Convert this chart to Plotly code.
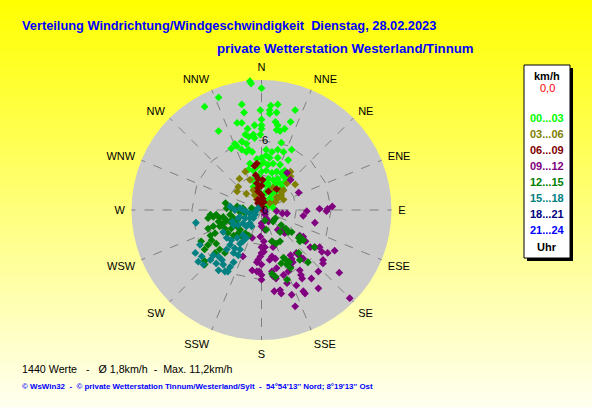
import numpy as np
import plotly.graph_objects as go

W, H = 592, 407

# compass directions of the angular axis
dir_ticks = [i * 22.5 for i in range(16)]
dir_labels = ["N", "NNE", "NE", "ENE", "E", "ESE", "SE", "SSE",
              "S", "SSW", "SW", "WSW", "W", "WNW", "NW", "NNW"]
ring_levels = [3, 6]
radial_ticks = [0, 6]
r_max = 11.2

# wind vectors, east / north components in km/h,
# one pair of lists per 3-hour block of the day
h00_east = [-1.0, -0.9, 0.0, -3.7, -4.9, -1.7, -1.5, 0.8, 0.7, 0.7,
            1.4, 1.3, -0.1, 2.9, -2.1, -1.7, -3.7, -0.6, 0.0, 0.0,
            0.0, 1.2, 1.4, 1.3, 1.6, 2.0, 2.5, -1.2, -1.4, -1.1,
            -0.7, -0.6, -0.1, -1.7, -2.1, -2.6, -2.3, -1.3, -1.1, -0.8,
            0.4, 0.4, 0.9, 1.4, 1.7, 1.9, 2.6, 2.3, -0.4, 0.0,
            0.2, 0.7, 1.0, 1.4, -1.0, -1.1, -0.7, -0.4, -0.1, 0.4,
            0.9, 1.3, 1.7, 0.6, 1.0, 1.4, 1.9, 0.3, 0.7, 1.2,
            1.6, 2.0, 0.4, 0.9, 1.3, 0.7, 1.0, 0.0, -0.4, -0.7,
            -0.8, 0.2, 0.6, 0.0, -0.3, -1.7, -1.3,
            0.55, 1.6, 2.0, 0.0, -0.3, 2.2, 1.8, 0.55, 1.0, 0.4]
h00_north = [11.1, 10.9, 10.5, 9.7, 8.9, 9.1, 8.4, 9.0, 8.6, 8.3,
             9.1, 8.4, 8.6, 8.6, 7.5, 7.5, 6.8, 7.3, 7.8, 7.3,
             7.0, 7.6, 7.3, 6.9, 6.8, 7.0, 7.6, 7.0, 6.5, 6.3,
             6.5, 6.2, 6.5, 5.9, 5.5, 5.3, 5.7, 5.7, 5.2, 5.0,
             5.2, 4.7, 5.0, 5.2, 5.8, 5.0, 5.2, 4.3, 4.4, 4.5,
             4.1, 4.5, 4.0, 4.5, 4.0, 3.5, 3.4, 3.7, 3.9, 3.4,
             3.2, 3.3, 3.2, 2.7, 2.6, 2.7, 2.9, 2.2, 2.0, 2.2,
             2.3, 2.4, 1.6, 1.4, 1.6, 1.0, 0.7, 2.6, 2.3, 2.0,
             2.6, 1.3, 0.4, 0.9, 1.7, 5.2, 5.0,
             3.9, 3.9, 3.4, 3.3, 2.9, 2.8, 1.9, 2.3, 0.2, 0.7]

h03_east = [-1.4, -1.9, -2.0, -2.1, -1.3, -0.6, -0.4, -0.2, -1.0, -0.7,
            2.5, 2.5, 2.9, 2.2, 1.9, 1.7, 1.4, 1.2, 0.7, 1.0,
            1.3, 1.6, 1.9, 0.1]
h03_north = [3.3, 2.7, 2.0, 1.6, 1.4, 1.3, 0.9, 0.7, 2.6, 1.7,
             3.3, 2.9, 2.2, 2.3, 1.7, 1.3, 1.0, 0.7, 0.6, 1.9,
             1.1, 1.7, 0.9, 0.3]

h06_east = [-0.4, -0.6, -0.5, -0.3, 0.1, -0.4, 0.0, -0.3, -0.3, 0.0,
            0.1, -0.3, 0.2, -0.1, 0.0, -0.3, 1.3, 0.6]
h06_north = [4.0, 3.8, 3.0, 2.7, 2.6, 2.3, 2.1, 1.9, 1.6, 1.3,
             1.0, 0.9, 0.7, 0.4, 0.15, 0.6, 1.8, 1.6]

h09_east = [5.0, 5.7, 6.1, 5.6, 3.9, 3.6, 1.3, 1.8, 2.2, 0.3,
            0.4, 0.6, 0.0, 4.6, 1.4, 1.9, 2.0, 3.3, 3.6, 3.8,
            -0.8, 0.2, 0.0, 0.3, 0.9, 1.0, 5.0, 5.2, 5.7, 6.3,
            4.6, 4.2, 3.0, 3.3, 3.6, 2.5, 2.6, 0.0, -0.1, -0.3,
            -0.4, 0.2, 0.9, 1.2, 0.7, 5.3, 5.3, 2.7, -0.8, -0.2,
            0.0, 0.9, 1.0, 1.25, 1.9, 2.3, 3.3, 3.4, 3.5, 4.3,
            4.9, 6.7, 0.0, 2.2, 3.0, 1.1, 1.6, 1.7, 2.6, 3.6,
            3.75, 4.9, 2.9, 7.6, -1.6, 1.3, 0.3, 1.0, 2.2, 2.5,
            3.2, -0.1, 0.3, 0.0, -0.4, 0.0, 2.5]
h09_north = [0.1, 0.1, 0.3, -0.1, -0.1, -0.5, -0.1, -0.3, -0.3, -0.4,
             -0.7, -1.0, -1.4, -1.1, -1.7, -1.7, -2.0, -2.2, -2.3, -2.7,
             -2.4, -2.7, -3.2, -3.2, -2.7, -3.2, -3.2, -3.6, -3.7, -3.5,
             -3.2, -3.2, -3.7, -4.0, -4.2, -3.9, -4.2, -3.7, -4.0, -4.3,
             -4.5, -3.6, -4.0, -4.2, -4.3, -4.3, -4.6, -4.5, -5.2, -5.3,
             -5.6, -5.3, -5.7, -5.9, -5.6, -5.3, -5.2, -5.6, -5.9, -5.9,
             -5.3, -5.4, -6.0, -6.3, -6.5, -7.0, -6.9, -7.2, -7.3, -7.0,
             -7.2, -6.75, -8.3, -7.6, -4.0, -5.0, -0.15, -0.9, 3.2, 2.6,
             1.5, -2.3, -1.7, -1.15, -5.3, -4.7, -4.9]

h12_east = [0.3, 1.0, 1.2, 1.7, 2.1, 2.3, 2.6, 1.6, 0.4, 0.9,
            1.25, 1.6, 3.2, 3.3, 3.6, 3.3, 4.55, 1.9, 2.1, 2.4,
            1.7, 2.2, 2.5, 3.2, 4.0, 3.3, 0.9, 1.2, 2.2,
            -3.1, -3.0, -2.6, -2.1, -1.6, -1.85, -1.4, -0.85, -4.4, -4.6,
            -4.15, -3.9, -3.6, -3.7, -3.3, -3.0, -2.7, -2.4, -2.1, -2.7,
            -3.3, -4.15, -3.6, -3.15, -2.6, -2.1, -2.9, -2.4, -2.0, -1.85,
            -4.4, -4.0, -4.3, -3.9, -4.6, -4.9, -4.0, -3.6, -3.15, -4.9,
            -1.7, -1.4, -1.1, -5.2, -4.9, -4.6]
h12_north = [-0.9, -1.0, -0.7, -1.3, -1.6, -1.9, -1.9, -1.9, -1.7, -2.7,
             -2.9, -2.7, -2.4, -2.7, -2.6, -2.3, -3.2, -4.1, -4.3, -4.5,
             -4.6, -4.7, -5.0, -3.7, -4.5, -4.3, -5.5, -5.75, -6.0,
             0.6, 0.15, 0.15, 0.3, 0.15, -0.2, -0.3, 0.15, -0.4, -0.7,
             -0.6, -0.4, -0.7, -1.0, -1.15, -0.9, -1.0, -0.7, -0.9, -0.4,
             -0.6, -1.4, -1.4, -1.6, -1.6, -1.4, -2.0, -2.2, -2.0, -1.7,
             -2.2, -2.0, -2.6, -2.9, -3.0, -3.4, -3.7, -3.4, -3.7, -4.7,
             -2.3, -2.0, -2.2, -2.7, -4.4, -1.6]

h15_east = [-5.65, -0.3, -0.55, -1.0, -1.3, -1.6, -1.85, -2.3, -1.85, -1.4,
            -1.0, -1.3, -0.85, -1.6, -2.0, -2.4, -3.3, -3.0, -2.6, -2.1,
            -1.85, -1.6, -1.3, -2.7, -2.3, -1.85, -3.0, -4.15, -3.7, -4.4,
            -3.4, -3.9, -3.3, -2.7, -3.15, -2.9, -2.4, -2.4, -2.0, -5.7,
            -5.45, -5.3, -5.15, -5.0, -3.7, -1.6, -0.7, -0.55, -1.0, -2.0,
            -2.5, -2.7]
h15_north = [-1.1, 0.15, -0.15, -0.3, -0.15, 0.0, 0.15, 0.0, -0.6, -0.7,
             -1.15, -1.4, -1.4, -1.15, -1.3, -1.3, -1.9, -2.4, -2.6, -2.4,
             -2.9, -2.7, -2.4, -3.0, -3.3, -3.4, -3.4, -3.9, -4.0, -4.3,
             -4.3, -4.6, -4.7, -4.9, -5.3, -5.3, -4.5, -3.7, -3.9, -3.7,
             -4.45, -3.0, -4.0, -4.7, -5.2, -2.15, -0.7, -0.4, -0.7, -0.7,
             -1.0, 0.3]

h18_east, h18_north = [], []
h21_east, h21_north = [], []

hour_labels = ["00...03", "03...06", "06...09", "09...12",
               "12...15", "15...18", "18...21", "21...24"]
hour_colors = ["#00ff00", "#808000", "#800000", "#800080",
               "#008000", "#008080", "#000080", "#0000ff"]
blocks = [(h00_east, h00_north), (h03_east, h03_north), (h06_east, h06_north),
          (h09_east, h09_north), (h12_east, h12_north), (h15_east, h15_north),
          (h18_east, h18_north), (h21_east, h21_north)]

FONT = "Liberation Sans, Arial, sans-serif"


def px(x):
    return x / W


def py(y):
    return 1 - y / H


fig = go.Figure()

# dashed polygon rings
for lev in ring_levels:
    fig.add_trace(go.Scatterpolar(
        r=[lev] * (len(dir_ticks) + 1), theta=dir_ticks + [dir_ticks[0]],
        mode="lines", line=dict(color="#7f7f7f", width=1, dash="dash"),
        hoverinfo="skip", showlegend=False))

for (east, north), col in zip(blocks, hour_colors):
    e = np.array(east, dtype=float)
    n = np.array(north, dtype=float)
    speed = np.hypot(e, n)
    direction = np.degrees(np.arctan2(e, n)) % 360
    fig.add_trace(go.Scatterpolar(
        r=speed, theta=direction, mode="markers",
        marker=dict(symbol="diamond", size=6, color=col, line=dict(width=0)),
        hoverinfo="skip", showlegend=False))

# yellow to pale background, drawn as thin bands
shapes = []
nb = 60
for i in range(nb):
    t = (i + 0.5) / nb
    b = int(round(240 * t))
    shapes.append(dict(type="rect", xref="paper", yref="paper",
                       x0=0, x1=1, y0=1 - (i + 1) / nb, y1=1 - i / nb + 0.002,
                       fillcolor=f"rgb(255,255,{b})", line=dict(width=0),
                       layer="below"))

# legend box with shadow
shapes.append(dict(type="rect", xref="paper", yref="paper",
                   x0=px(527), x1=px(573), y0=py(261), y1=py(68),
                   fillcolor="black", line=dict(width=0)))
shapes.append(dict(type="rect", xref="paper", yref="paper",
                   x0=px(524), x1=px(570), y0=py(258), y1=py(65),
                   fillcolor="white", line=dict(color="black", width=1)))

ann = []
ann.append(dict(text="Verteilung Windrichtung/Windgeschwindigkeit  Dienstag, 28.02.2023",
                x=px(20), y=py(25), xanchor="left", yanchor="middle",
                font=dict(family=FONT, size=12.8, color="#0000ff", weight="bold")))
ann.append(dict(text="private Wetterstation Westerland/Tinnum",
                x=px(215), y=py(49), xanchor="left", yanchor="middle",
                font=dict(family=FONT, size=13.2, color="#0000ff", weight="bold")))
ann.append(dict(text="1440 Werte   -   Ø 1,8km/h  -  Max. 11,2km/h",
                x=px(20), y=py(369), xanchor="left", yanchor="middle",
                font=dict(family=FONT, size=10.7, color="black")))
ann.append(dict(text="© WsWin32  -  © private Wetterstation Tinnum/Westerland/Sylt  -  "
                     "54°54'13'' Nord; 8°19'13'' Ost",
                x=px(20), y=py(386), xanchor="left", yanchor="middle",
                font=dict(family=FONT, size=7.9, color="#0000ff", weight="bold")))

ann.append(dict(text="km/h", x=px(547), y=py(76), xanchor="center", yanchor="middle",
                font=dict(family=FONT, size=11, color="black", weight="bold")))
ann.append(dict(text="0,0", x=px(547), y=py(88), xanchor="center", yanchor="middle",
                font=dict(family=FONT, size=11, color="#ff0000")))
for i, (lab, col) in enumerate(zip(hour_labels, hour_colors)):
    ann.append(dict(text=lab, x=px(547), y=py(118 + i * 16), xanchor="center",
                    yanchor="middle",
                    font=dict(family=FONT, size=11, color=col, weight="bold")))
ann.append(dict(text="Uhr", x=px(547), y=py(247), xanchor="center", yanchor="middle",
                font=dict(family=FONT, size=11, color="black", weight="bold")))
for a in ann:
    a.update(xref="paper", yref="paper", showarrow=False)

cx, cy, rad = 261.5, 210, 130
fig.update_layout(
    width=W, height=H,
    margin=dict(l=0, r=0, t=0, b=0),
    paper_bgcolor="#ffff00",
    showlegend=False,
    shapes=shapes,
    annotations=ann,
    polar=dict(
        domain=dict(x=[px(cx - rad), px(cx + rad)], y=[py(cy + rad), py(cy - rad)]),
        bgcolor="#cacaca",
        angularaxis=dict(
            rotation=90, direction="clockwise",
            tickmode="array", tickvals=dir_ticks, ticktext=dir_labels,
            showline=False, showgrid=True, gridcolor="#7f7f7f", gridwidth=1,
            griddash="dash", ticks="outside", ticklen=4, tickcolor="rgba(0,0,0,0)",
            tickfont=dict(family=FONT, size=11, color="black"),
        ),
        radialaxis=dict(
            range=[0, r_max], showgrid=False, showline=False,
            tickmode="array", tickvals=radial_ticks,
            ticktext=[str(v) for v in radial_ticks],
            angle=90, tickangle=90, ticks="", side="clockwise",
            tickfont=dict(family=FONT, size=11, color="black"),
        ),
    ),
)

# page without body margin so the chart fills the window exactly
fig.write_html("out.html", config={"displayModeBar": False},
               post_script="document.body.style.margin='0';"
                           "document.body.style.overflow='hidden';")
